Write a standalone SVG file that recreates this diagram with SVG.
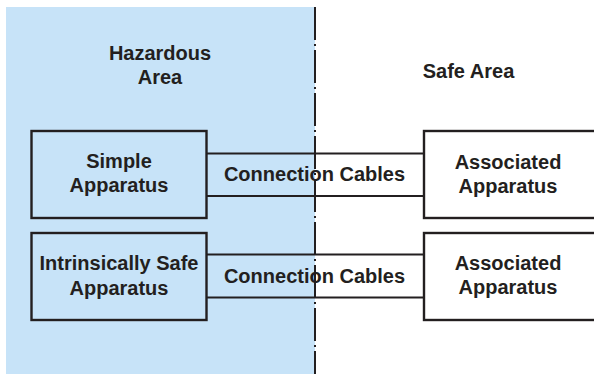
<svg xmlns="http://www.w3.org/2000/svg" width="594" height="374" viewBox="0 0 594 374">
<style>
.t{font-family:"Liberation Sans",Arial,sans-serif;font-weight:bold;font-size:20px;fill:#231f20;text-anchor:middle}
.box{fill:none;stroke:#231f20;stroke-width:2.4}
.cable{stroke:#231f20;stroke-width:1.8;fill:none}
</style>
<rect x="0" y="0" width="594" height="374" fill="#ffffff"/>
<g id="hazardous-area">
<rect x="6" y="7" width="309" height="367" fill="#c7e3f8"/>
<text class="t" x="160" y="60">Hazardous</text>
<text class="t" x="160" y="84">Area</text>
</g>
<g id="safe-area">
<text class="t" x="468.5" y="78">Safe Area</text>
</g>
<g id="boundary">
<line x1="315" y1="7" x2="315" y2="374" stroke="#231f20" stroke-width="2" stroke-dasharray="33 4 2 4"/>
</g>
<g id="connectors">
<line class="cable" x1="206" y1="153.5" x2="424" y2="153.5"/>
<line class="cable" x1="206" y1="196" x2="424" y2="196"/>
<line class="cable" x1="206" y1="254.5" x2="424" y2="254.5"/>
<line class="cable" x1="206" y1="297.5" x2="424" y2="297.5"/>
<text class="t" x="314.5" y="181">Connection Cables</text>
<text class="t" x="314.5" y="283">Connection Cables</text>
</g>
<g id="simple-apparatus">
<rect class="box" x="31.5" y="131" width="175" height="87"/>
<text class="t" x="119" y="168">Simple</text>
<text class="t" x="119" y="192">Apparatus</text>
</g>
<g id="intrinsically-safe-apparatus">
<rect class="box" x="31.5" y="233" width="175" height="87"/>
<text class="t" x="119" y="270">Intrinsically Safe</text>
<text class="t" x="119" y="295">Apparatus</text>
</g>
<g id="associated-apparatus-1">
<rect class="box" x="424" y="131" width="180" height="87"/>
<text class="t" x="508" y="169">Associated</text>
<text class="t" x="508" y="193">Apparatus</text>
</g>
<g id="associated-apparatus-2">
<rect class="box" x="424" y="233" width="180" height="87"/>
<text class="t" x="508" y="270">Associated</text>
<text class="t" x="508" y="294">Apparatus</text>
</g>
</svg>
